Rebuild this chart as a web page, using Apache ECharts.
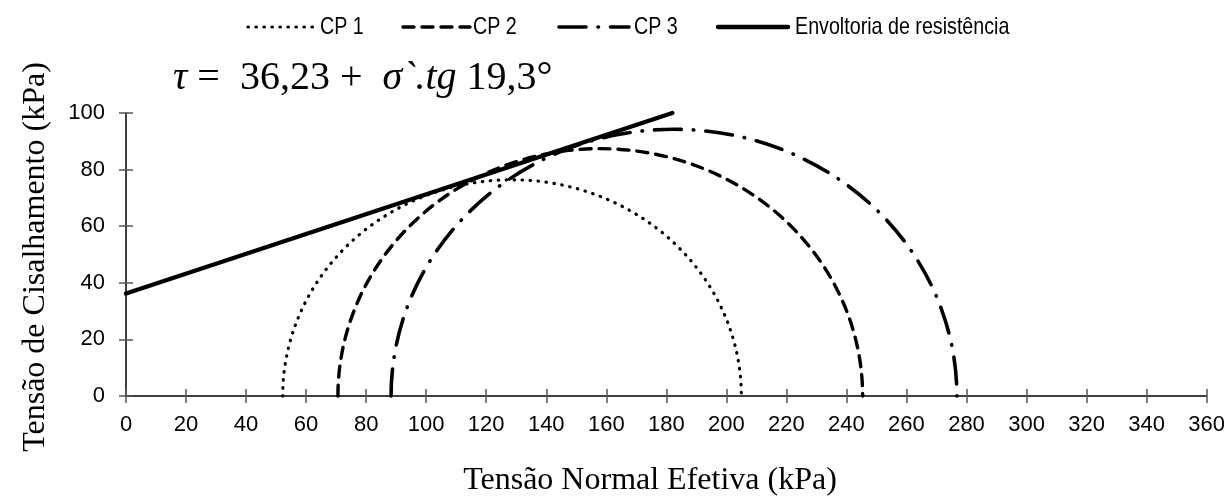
<!DOCTYPE html>
<html>
<head>
<meta charset="utf-8">
<script src="https://cdn.jsdelivr.net/npm/echarts@6/dist/echarts.min.js"></script>
<style>html,body{margin:0;padding:0;background:#fff}#c{width:1228px;height:496px}</style>
</head>
<body>
<div id="c"></div>
<script>
// ---- data ----
const circleNames = ['CP 1', 'CP 2', 'CP 3'];
const sigma3 = [52.2, 70.6, 88.3];     // left end of each Mohr circle (kPa)
const sigma1 = [205.0, 245.4, 276.8];  // right end of each Mohr circle (kPa)
const envelopeName = 'Envoltoria de resistência';
const envelopeX = [0, 182];
const envelopeY = [36.23, 100];
const equationParts = ['τ', ' =  ', '36,23', ' + ', ' σ`.', 'tg', ' 19,3°'];
const equationItalic = [true, false, false, false, true, true, false];
const xTitle = 'Tensão Normal Efetiva (kPa)';
const yTitle = 'Tensão de Cisalhamento (kPa)';

const SANS = "'Liberation Sans', Arial, sans-serif";
const SERIF = "'Liberation Serif','Times New Roman',serif";

const dashes = [[0.5, 7.5], [11, 8], [27, 12, 0.5, 12], null];
const widths = [3.2, 3.4, 3.6, 4.4];

const chart = echarts.init(document.getElementById('c'), null, {renderer: 'canvas'});

function circleSeries(i) {
  return {
    type: 'custom',
    name: circleNames[i],
    xAxisIndex: 0, yAxisIndex: 0,
    data: [[sigma3[i], sigma1[i]]],
    clip: false,
    silent: true,
    renderItem: function (params, api) {
      const a = api.value(0), b = api.value(1);
      const p1 = api.coord([a, 0]);
      const p2 = api.coord([b, 0]);
      const r = (b - a) / 2;
      const s = api.size([r, r]);
      return {
        type: 'path',
        shape: {
          pathData: 'M' + p1[0] + ' ' + p1[1] + ' A' + s[0] + ' ' + s[1] + ' 0 0 1 ' + p2[0] + ' ' + p2[1]
        },
        style: {fill: null, stroke: '#000', lineWidth: widths[i], lineDash: dashes[i], lineCap: 'round'}
      };
    }
  };
}

const envData = envelopeX.map((x, k) => [x, envelopeY[k]]);

// legend drawn as graphic
const legendItems = [
  {x1: 248, x2: 317, tx: 320, label: circleNames[0], k: 0},
  {x1: 403, x2: 470, tx: 473, label: circleNames[1], k: 1},
  {x1: 559, x2: 629, tx: 634, label: circleNames[2], k: 2},
  {x1: 718, x2: 788, tx: 795, label: envelopeName, k: 3}
];
const LY = 27;
const graphics = [];
legendItems.forEach(it => {
  graphics.push({
    type: 'line', shape: {x1: it.x1, y1: LY, x2: it.x2, y2: LY},
    style: {stroke: '#000', lineWidth: widths[it.k], lineDash: dashes[it.k], lineCap: 'round'}
  });
  graphics.push({
    type: 'text', x: it.tx, y: LY, scaleX: 0.82,
    style: {text: it.label, font: '24px ' + SANS, fill: '#000', verticalAlign: 'middle', align: 'left'}
  });
});
let eqText = '';
equationParts.forEach((p, k) => { eqText += '{' + (equationItalic[k] ? 'i' : 'n') + '|' + p + '}'; });
graphics.push({
  type: 'text', x: 173, y: 78,
  style: {
    text: eqText,
    verticalAlign: 'middle', align: 'left',
    rich: {
      i: {fontFamily: SERIF, fontSize: 40, fontStyle: 'italic', fill: '#000'},
      n: {fontFamily: SERIF, fontSize: 40, fill: '#000'}
    }
  }
});
graphics.push({
  type: 'text', x: 650, y: 481,
  style: {text: xTitle, font: '32px ' + SERIF, fill: '#000', align: 'center', verticalAlign: 'middle'}
});
graphics.push({
  type: 'text', x: 36, y: 257, rotation: Math.PI / 2,
  style: {text: yTitle, font: '32px ' + SERIF, fill: '#000', align: 'center', verticalAlign: 'middle'}
});

const tickColor = '#555';
const option = {
  animation: false,
  backgroundColor: '#fff',
  grid: {left: 126, right: 20, top: 113, bottom: 100, containLabel: false},
  xAxis: [{
    type: 'value', min: 0, max: 360, interval: 20, position: 'bottom',
    axisLine: {show: true, onZero: false, lineStyle: {color: '#000', width: 1.5}},
    axisTick: {show: true, length: 7, lineStyle: {color: tickColor, width: 1.5}},
    axisLabel: {margin: 18, color: '#000', fontSize: 22, fontFamily: SANS},
    splitLine: {show: false}
  }, {
    type: 'value', min: 0, max: 360, interval: 20, position: 'bottom',
    axisLine: {show: false},
    axisTick: {show: true, inside: true, length: 7, lineStyle: {color: tickColor, width: 1.5}},
    axisLabel: {show: false}, splitLine: {show: false}
  }],
  yAxis: [{
    type: 'value', min: 0, max: 100, interval: 20, position: 'left',
    axisLine: {show: true, onZero: false, lineStyle: {color: '#000', width: 1.5}},
    axisTick: {show: true, length: 7, lineStyle: {color: tickColor, width: 1.5}},
    axisLabel: {margin: 21, color: '#000', fontSize: 22, fontFamily: SANS},
    splitLine: {show: false}
  }, {
    type: 'value', min: 0, max: 100, interval: 20, position: 'left',
    axisLine: {show: false},
    axisTick: {show: true, inside: true, length: 7, lineStyle: {color: tickColor, width: 1.5}},
    axisLabel: {show: false}, splitLine: {show: false}
  }],
  series: [
    circleSeries(0), circleSeries(1), circleSeries(2),
    {
      type: 'line', name: envelopeName, xAxisIndex: 0, yAxisIndex: 0,
      data: envData, showSymbol: false, symbol: 'none', clip: false,
      lineStyle: {color: '#000', width: widths[3], cap: 'round'}
    }
  ],
  graphic: graphics
};
chart.setOption(option);
</script>
</body>
</html>
